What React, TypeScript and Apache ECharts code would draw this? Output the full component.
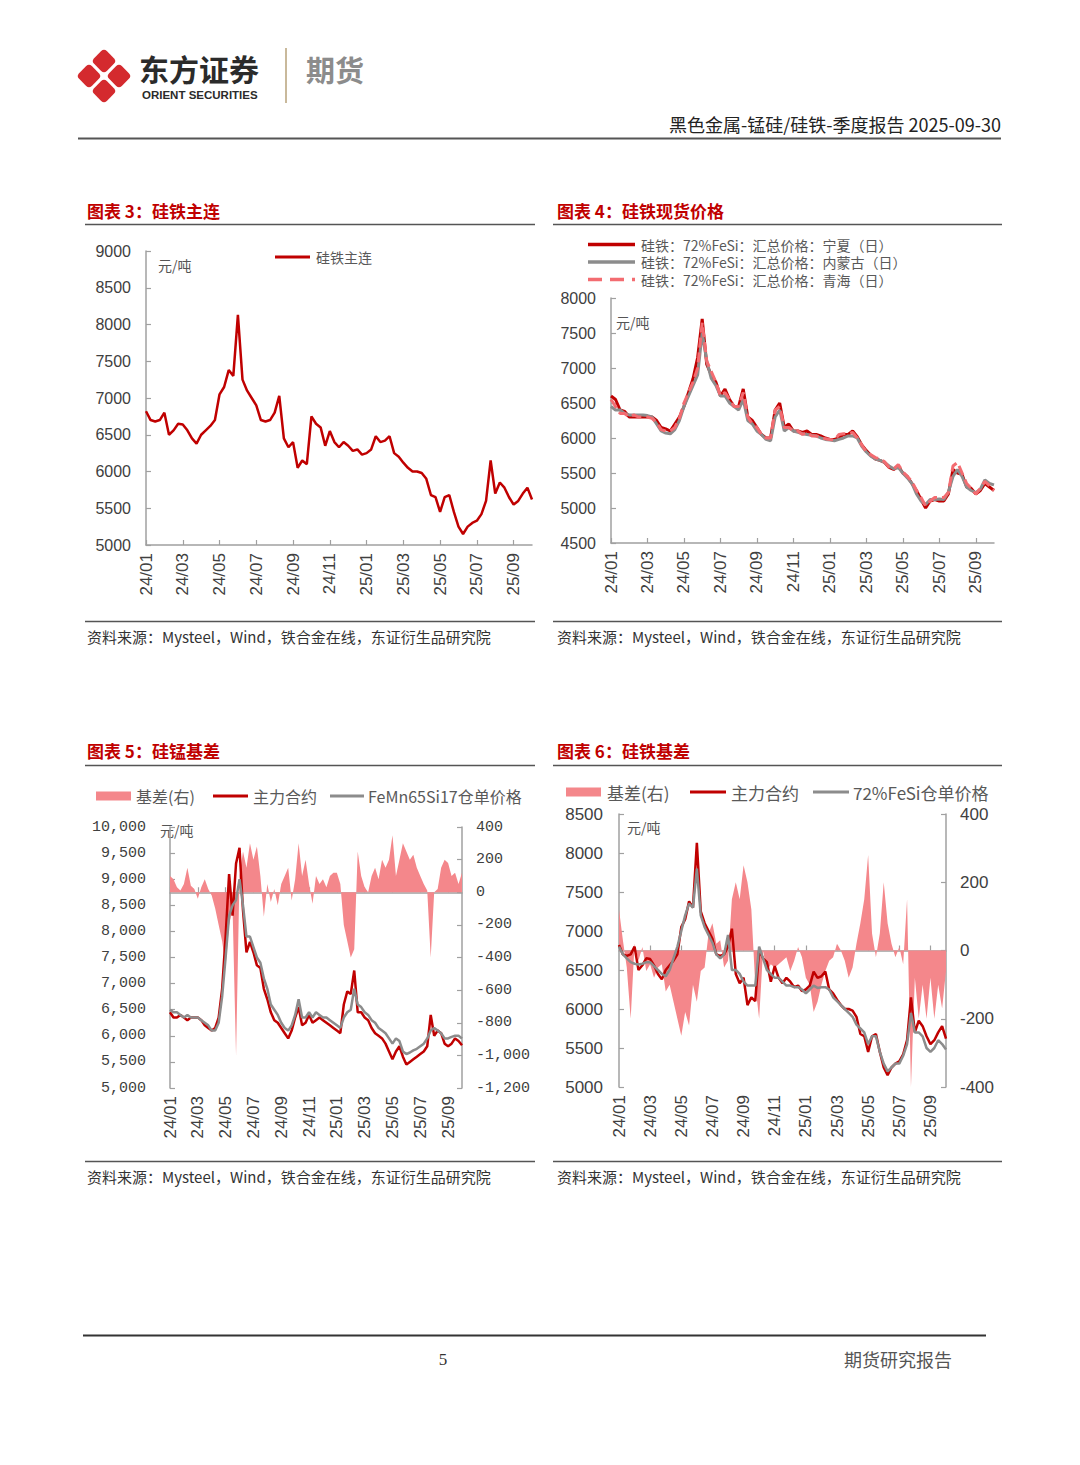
import React, { useEffect, useRef } from 'react';
import * as echarts from 'echarts';

// ---- tick labels (every 2 months) ----
const monthLabels = ['24/01', '24/03', '24/05', '24/07', '24/09', '24/11', '25/01', '25/03', '25/05', '25/07', '25/09'];

// ---- 图表3 / 图表6: 硅铁主连 (quarter-month samples, Jan 2024 – Sep 2025) ----
const fesiMain = [
  6820, 6700, 6680, 6700, 6800, 6500, 6560, 6650, 6640, 6560, 6450, 6380,
  6500, 6560, 6620, 6700, 7050, 7150, 7380, 7300, 8130, 7250, 7100, 7000,
  6900, 6700, 6680, 6700, 6800, 7030, 6450, 6330, 6400, 6050, 6150, 6100,
  6750, 6650, 6600, 6350, 6550, 6400, 6330, 6400, 6350, 6280, 6300, 6230,
  6250, 6300, 6480, 6400, 6420, 6480, 6250, 6200, 6120, 6050, 6000, 6000,
  5980, 5900, 5680, 5650, 5450, 5650, 5680, 5450, 5250, 5150, 5250, 5300,
  5330, 5420, 5600, 6150, 5700, 5850, 5780, 5650, 5550, 5600, 5700, 5780, 5620,
];

// ---- 图表4: 硅铁现货价格 ----
const fesiNingxia = [
  6600, 6550, 6400, 6380, 6300, 6300, 6300, 6300, 6300, 6300, 6250, 6150,
  6130, 6100, 6200, 6300, 6450, 6650, 6850, 7150, 7700, 7050, 6900, 6800,
  6600, 6700, 6550, 6450, 6450, 6700, 6300, 6250, 6150, 6050, 6000, 6000,
  6400, 6500, 6150, 6200, 6100, 6100, 6080, 6100, 6050, 6050, 6030, 6000,
  5980, 5980, 6000, 6050, 6050, 6100, 6020, 5900, 5820, 5750, 5700, 5680,
  5650, 5580, 5550, 5600, 5500, 5450, 5350, 5250, 5120, 5000, 5100, 5120,
  5100, 5100, 5200, 5550, 5500, 5480, 5300, 5280, 5200, 5250, 5350, 5300, 5250,
];
const fesiNeimeng = [
  6450, 6400, 6400, 6350, 6330, 6330, 6330, 6330, 6320, 6300, 6200, 6100,
  6070, 6060, 6120, 6250, 6450, 6600, 6750, 6900, 7500, 7100, 6850, 6750,
  6600, 6600, 6500, 6450, 6400, 6550, 6250, 6200, 6100, 6050, 5980, 5960,
  6300, 6400, 6100, 6150, 6100, 6080, 6060, 6050, 6040, 6030, 6000, 5980,
  5970, 5960, 5980, 6000, 6030, 6030, 6000, 5880, 5800, 5740, 5700, 5680,
  5650, 5600, 5560, 5580, 5500, 5430, 5350, 5200, 5100, 5050, 5120, 5120,
  5130, 5120, 5230, 5450, 5550, 5450, 5300, 5250, 5220, 5270, 5400, 5350, 5330,
];
const fesiQinghai = [
  6550, 6450, 6350, 6350, 6300, 6330, 6300, 6300, 6300, 6280, 6220, 6120,
  6100, 6100, 6150, 6280, 6500, 6650, 6800, 7000, 7650, 7100, 6950, 6800,
  6600, 6650, 6550, 6450, 6450, 6650, 6300, 6200, 6150, 6050, 6000, 6000,
  6400, 6450, 6150, 6150, 6100, 6100, 6050, 6080, 6030, 6030, 6000, 5990,
  5980, 5970, 6050, 6060, 6060, 6080, 6000, 5900, 5800, 5760, 5720, 5700,
  5660, 5580, 5560, 5620, 5520, 5450, 5380, 5250, 5150, 5030, 5100, 5150,
  5150, 5150, 5220, 5600, 5650, 5500, 5350, 5280, 5200, 5280, 5380, 5320, 5250,
];

// ---- 图表5: 硅锰基差 ----
const simnMain = [
  6450, 6350, 6350, 6400, 6350, 6300, 6350, 6350, 6350, 6300, 6200, 6150,
  6100, 6150, 6350, 6900, 7900, 9100, 8300, 9300, 9600, 8400, 7600, 7800,
  7600, 7350, 7300, 6900, 6700, 6450, 6300, 6250, 6150, 6050, 5950, 6100,
  6350, 6550, 6200, 6250, 6400, 6250, 6300, 6350, 6300, 6250, 6200, 6150,
  6100, 6050, 6600, 6850, 6800, 7250, 6450, 6450, 6350, 6300, 6150, 6050,
  6000, 5950, 5850, 5700, 5550, 5700, 5800, 5600, 5450, 5500, 5550, 5600,
  5650, 5700, 5800, 6400, 6000, 6100, 6050, 5850, 5800, 5850, 5950, 5900, 5820,
];
const simnWarrant = [
  6500, 6450, 6450, 6400, 6350, 6400, 6350, 6350, 6350, 6300, 6250, 6200,
  6100, 6100, 6250, 6750, 7500, 8300, 8500, 8600, 9000, 8500, 7900, 7900,
  7700, 7500, 7400, 7100, 6900, 6600, 6500, 6400, 6250, 6150, 6100, 6200,
  6400, 6700, 6350, 6350, 6450, 6350, 6450, 6400, 6350, 6350, 6300, 6250,
  6200, 6150, 6350, 6450, 6500, 6900, 6600, 6550, 6450, 6400, 6300, 6250,
  6150, 6100, 6050, 5950, 5850, 5950, 5900, 5700, 5650, 5680, 5720, 5750,
  5800, 5850, 5950, 6100, 6150, 6100, 6050, 5950, 5950, 5980, 6000, 6000, 5950,
];
const simnBasis = [
  100, 80, 30, 10, 50, 150, 40, 20, -40, 30, 80, 20,
  -20, -100, -200, -300, -450, -200, -100, -1000, 100, 250, 150, 300,
  200, 280, 100, -150, 50, -60, 20, -80, 50, 100, 150, -50,
  80, 300, 100, 200, 50, -70, 100, 50, 80, 30, 100, 120,
  120, 50, -200, -300, -400, -350, 250, 100, 30, 0, 100, 150,
  80, 200, 150, 200, 350, 100, 200, 300, 250, 200, 230, 150,
  100, 50, 10, -400, 0, 20, 150, 200, 180, 100, 120, 50, 120,
];

// ---- 图表6: 硅铁基差 ----
const fesiWarrant = [
  6800, 6700, 6650, 6600, 6580, 6570, 6580, 6600, 6600, 6550, 6500, 6450,
  6420, 6500, 6650, 6800, 7000, 7200, 7350, 7300, 7800, 7200, 7050, 6950,
  6850, 6700, 6650, 6700, 6950, 6500, 6500, 6450, 6350, 6300, 6300, 6300,
  6800, 6650, 6500, 6450, 6400, 6400, 6350, 6300, 6300, 6280, 6280, 6250,
  6200, 6250, 6300, 6270, 6280, 6280, 6250, 6150, 6100, 6050, 6000, 5950,
  5900, 5800, 5750, 5700, 5550, 5650, 5650, 5450, 5300, 5200, 5250, 5300,
  5300, 5400, 5550, 5950, 5700, 5700, 5650, 5500, 5450, 5500, 5600, 5550, 5480,
];
const fesiBasis = [
  120, 30, -50, -200, 20, -30, 10, -60, -40, -80, -50, -40,
  -120, -100, -150, -200, -250, -180, -220, -100, -150, -60, -50, 50,
  80, 20, 30, -50, -30, 150, 200, 150, 250, 200, 120, -100,
  -200, 0, -60, -40, -50, -40, -30, -20, -60, -30, 10, -20,
  -80, -100, -180, -150, -100, -60, -30, -20, 20, 0, -30, -80,
  -50, 20, 80, 150, 280, 50, -20, 50, 200, 80, 20, -20,
  10, -40, 150, -400, -80, -200, -100, -200, -80, -200, -100, -170, -60,
];

// category axis: one slot per quarter-month; every 8th slot carries a tick label
const categories = fesiMain.map((_, i) => (i % 8 === 0 ? monthLabels[i / 8] : `q${i}`));

const RED = '#c00000';
const GRAY = '#8c8c8c';
const PINK = '#f4878b';
const DASH_PINK = '#f36c71';
const AXIS = '#a0a0a0';
const LABEL = '#404040';
const TITLE_RED = '#c00000';
const CJK = '"Noto Sans CJK SC", sans-serif';
const SANS = '"Liberation Sans", Arial, sans-serif';
const MONO = '"Liberation Mono", "DejaVu Sans Mono", monospace';

const showEvery8 = (i: number) => i % 8 === 0;
const plain = (v: number) => String(v);
const thousands = (v: number) => {
  const s = Math.abs(v).toString().replace(/\B(?=(\d{3})+(?!\d))/g, ',');
  return (v < 0 ? '-' : '') + s;
};

function xAxisFor(gridIndex: number, fontFamily: string, fontSize: number) {
  return {
    type: 'category',
    gridIndex,
    data: categories,
    boundaryGap: false,
    axisLine: { lineStyle: { color: AXIS, width: 1.5 } },
    axisTick: { inside: true, length: 5, interval: showEvery8, lineStyle: { color: AXIS, width: 1.2 } },
    axisLabel: { interval: showEvery8, rotate: 90, color: LABEL, fontSize, fontFamily, margin: 8 },
    splitLine: { show: false },
  };
}

function yAxisFor(gridIndex: number, min: number, max: number, interval: number, opts: any) {
  return {
    type: 'value',
    gridIndex,
    min,
    max,
    interval,
    position: opts.position || 'left',
    axisLine: { show: true, lineStyle: { color: AXIS, width: 1.5 } },
    axisTick: { show: true, inside: true, length: 5, lineStyle: { color: AXIS, width: 1.2 } },
    splitLine: { show: false },
    axisLabel: {
      color: LABEL,
      fontSize: opts.fontSize,
      fontFamily: opts.fontFamily,
      margin: opts.margin,
      formatter: opts.formatter || plain,
    },
  };
}

function lineSeries(name: string, data: number[], xi: number, yi: number, color: string, width: number, type: any = 'solid') {
  return {
    name,
    type: 'line',
    xAxisIndex: xi,
    yAxisIndex: yi,
    data,
    showSymbol: false,
    symbol: 'none',
    lineStyle: { color, width, type },
    itemStyle: { color },
  };
}

function areaSeries(name: string, data: number[], xi: number, yi: number) {
  return {
    name,
    type: 'line',
    xAxisIndex: xi,
    yAxisIndex: yi,
    data,
    showSymbol: false,
    symbol: 'none',
    lineStyle: { width: 0, color: PINK },
    areaStyle: { color: PINK, opacity: 1 },
    itemStyle: { color: PINK },
  };
}

function txt(x: number, y: number, text: string, size: number, fill: string, family: string, weight: any = 'normal', align = 'left', lineHeight?: number) {
  return {
    type: 'text',
    x,
    y,
    style: {
      text,
      fill,
      fontSize: size,
      fontFamily: family,
      fontWeight: weight,
      lineHeight: lineHeight || Math.round(size * 1.2),
      align,
      textAlign: align,
      verticalAlign: 'middle',
      textVerticalAlign: 'middle',
    },
  };
}

function hline(x1: number, x2: number, y: number, color: string, width: number, dash?: number[]) {
  return {
    type: 'line',
    shape: { x1, y1: y, x2, y2: y },
    style: { stroke: color, lineWidth: width, lineDash: dash },
  };
}

function swatch(x: number, y: number, w: number, h: number, color: string) {
  return { type: 'rect', shape: { x, y: y - h / 2, width: w, height: h }, style: { fill: color } };
}

function logoPiece(cx: number, cy: number) {
  return {
    type: 'rect',
    x: cx,
    y: cy,
    rotation: Math.PI / 4,
    shape: { x: -9, y: -9, width: 18, height: 18, r: 4 },
    style: { fill: '#d42a2e' },
  };
}

export default function App() {
  const ref = useRef<HTMLDivElement>(null);

  useEffect(() => {
    if (!ref.current) return;
    const chart = echarts.init(ref.current, undefined, { renderer: 'svg' });

    const legendText = '#595959';
    const graphic: any[] = [
      // header
      logoPiece(104, 61),
      logoPiece(89, 76),
      logoPiece(119, 76),
      logoPiece(104, 91),
      txt(139, 68, '东方证券', 30, '#2b2b2b', CJK, 'bold', 'left', 32),
      txt(142, 95, 'ORIENT SECURITIES', 11.5, '#2b2b2b', SANS, 'bold', 'left', 12),
      { type: 'line', shape: { x1: 286, y1: 48, x2: 286, y2: 103 }, style: { stroke: '#c9b99b', lineWidth: 2 } },
      txt(306, 69, '期货', 29, '#8c8c8c', CJK, 'bold'),
      txt(1001, 124, '黑色金属-锰硅/硅铁-季度报告 2025-09-30', 18, '#222', CJK, 'normal', 'right'),
      hline(78, 1001, 138.5, '#555', 2),

      // chart 3 frame
      txt(87, 210, '图表 3：硅铁主连', 17, TITLE_RED, CJK, 'bold'),
      hline(85, 535, 224.5, '#555', 1.5),
      hline(275, 310, 257, RED, 3),
      txt(316, 257, '硅铁主连', 14, legendText, CJK),
      txt(158, 265, '元/吨', 14, '#555', CJK),
      hline(85, 535, 621.5, '#555', 1.5),
      txt(87, 636, '资料来源：Mysteel，Wind，铁合金在线，东证衍生品研究院', 15, '#333', CJK),

      // chart 4 frame
      txt(557, 210, '图表 4：硅铁现货价格', 17, TITLE_RED, CJK, 'bold'),
      hline(553, 1002, 224.5, '#555', 1.5),
      hline(588, 635, 244.5, RED, 3.5),
      txt(641, 244.5, '硅铁：72%FeSi：汇总价格：宁夏（日）', 14, legendText, CJK, 'normal', 'left', 15),
      hline(588, 635, 262, GRAY, 3.5),
      txt(641, 262, '硅铁：72%FeSi：汇总价格：内蒙古（日）', 14, legendText, CJK, 'normal', 'left', 15),
      hline(588, 635, 279.5, DASH_PINK, 3.5, [14, 8]),
      txt(641, 279.5, '硅铁：72%FeSi：汇总价格：青海（日）', 14, legendText, CJK, 'normal', 'left', 15),
      txt(616, 322, '元/吨', 14, '#555', CJK),
      hline(553, 1002, 621.5, '#555', 1.5),
      txt(557, 636, '资料来源：Mysteel，Wind，铁合金在线，东证衍生品研究院', 15, '#333', CJK),

      // chart 5 frame
      txt(87, 750, '图表 5：硅锰基差', 17, TITLE_RED, CJK, 'bold'),
      hline(85, 535, 765.5, '#555', 1.5),
      swatch(96, 796, 35, 9, PINK),
      txt(136, 796, '基差(右)', 16, legendText, CJK),
      hline(213, 248, 796, RED, 3),
      txt(253, 796, '主力合约', 16, legendText, CJK),
      hline(330, 364, 796, GRAY, 3),
      txt(368, 796, 'FeMn65Si17仓单价格', 16, legendText, CJK),
      txt(160, 830, '元/吨', 14, '#555', CJK),
      hline(85, 535, 1161.5, '#555', 1.5),
      txt(87, 1176, '资料来源：Mysteel，Wind，铁合金在线，东证衍生品研究院', 15, '#333', CJK),

      // chart 6 frame
      txt(557, 750, '图表 6：硅铁基差', 17, TITLE_RED, CJK, 'bold'),
      hline(553, 1002, 765.5, '#555', 1.5),
      swatch(566, 792, 35, 9, PINK),
      txt(607, 792, '基差(右)', 17, legendText, CJK),
      hline(690, 726, 792, RED, 3),
      txt(731, 792, '主力合约', 17, legendText, CJK),
      hline(813, 849, 792, GRAY, 3),
      txt(853, 792, '72%FeSi仓单价格', 17, legendText, CJK),
      txt(627, 827, '元/吨', 14, '#555', CJK),
      hline(553, 1002, 1161.5, '#555', 1.5),
      txt(557, 1176, '资料来源：Mysteel，Wind，铁合金在线，东证衍生品研究院', 15, '#333', CJK),

      // footer
      hline(83, 986, 1335.5, '#333', 2),
      txt(443, 1359, '5', 17, '#333', '"Liberation Serif", serif', 'normal', 'center'),
      txt(952, 1359, '期货研究报告', 18, '#555', CJK, 'normal', 'right'),
    ];

    const option: any = {
      animation: false,
      backgroundColor: '#ffffff',
      grid: [
        { left: 146, top: 251, width: 386, height: 294 },
        { left: 611, top: 298, width: 383, height: 245 },
        { left: 170, top: 827, width: 292, height: 261 },
        { left: 619, top: 814, width: 327, height: 273 },
      ],
      xAxis: [
        xAxisFor(0, SANS, 17),
        xAxisFor(1, SANS, 17),
        xAxisFor(2, SANS, 17),
        xAxisFor(3, SANS, 17),
      ],
      yAxis: [
        yAxisFor(0, 5000, 9000, 500, { fontSize: 16, fontFamily: SANS, margin: 15 }),
        yAxisFor(1, 4500, 8000, 500, { fontSize: 16, fontFamily: SANS, margin: 15 }),
        yAxisFor(2, 5000, 10000, 500, { fontSize: 15, fontFamily: MONO, margin: 24, formatter: thousands }),
        yAxisFor(2, -1200, 400, 200, { fontSize: 15, fontFamily: MONO, margin: 14, formatter: thousands, position: 'right' }),
        yAxisFor(3, 5000, 8500, 500, { fontSize: 17, fontFamily: SANS, margin: 16 }),
        yAxisFor(3, -400, 400, 200, { fontSize: 17, fontFamily: SANS, margin: 14, position: 'right' }),
      ],
      series: [
        lineSeries('硅铁主连', fesiMain, 0, 0, RED, 2.5),

        lineSeries('硅铁：72%FeSi：汇总价格：宁夏（日）', fesiNingxia, 1, 1, RED, 3),
        lineSeries('硅铁：72%FeSi：汇总价格：内蒙古（日）', fesiNeimeng, 1, 1, GRAY, 3),
        lineSeries('硅铁：72%FeSi：汇总价格：青海（日）', fesiQinghai, 1, 1, DASH_PINK, 3, [10, 5]),

        areaSeries('硅锰基差(右)', simnBasis, 2, 3),
        lineSeries('硅锰主力合约', simnMain, 2, 2, RED, 2.5),
        lineSeries('FeMn65Si17仓单价格', simnWarrant, 2, 2, GRAY, 2.5),

        areaSeries('硅铁基差(右)', fesiBasis, 3, 5),
        lineSeries('硅铁主力合约', fesiMain, 3, 4, RED, 2.5),
        lineSeries('72%FeSi仓单价格', fesiWarrant, 3, 4, GRAY, 2.5),
      ],
      graphic,
    };

    chart.setOption(option);
    return () => chart.dispose();
  }, []);

  return (
    <div
      ref={ref}
      style={{ position: 'absolute', left: 0, top: 0, width: 1080, height: 1465, background: '#fff' }}
    />
  );
}
